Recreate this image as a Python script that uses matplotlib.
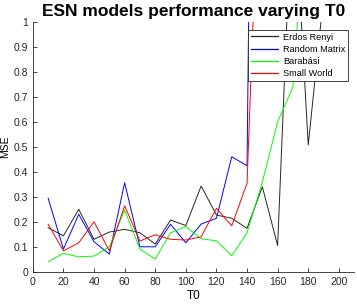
import matplotlib
matplotlib.use('Agg')
import matplotlib.pyplot as plt

plt.rcParams['font.family'] = ['Liberation Sans', 'DejaVu Sans']

t0 = [10, 20, 30, 40, 50, 60, 70, 80, 90, 100, 110, 120, 130, 140, 150, 160, 170, 180, 190]

erdos = [0.177, 0.145, 0.251, 0.131, 0.160, 0.171, 0.157, 0.112, 0.208, 0.186,
         0.344, 0.228, 0.215, 0.175, 0.341, 0.106, 1.6, 0.508, 1.1]
random_matrix = [0.295, 0.092, 0.231, 0.121, 0.072, 0.357, 0.101, 0.101, 0.191, 0.117,
                 0.192, 0.215, 0.461, 0.425, 6.0]
barabasi = [0.041, 0.075, 0.061, 0.064, 0.101, 0.248, 0.092, 0.052, 0.157, 0.182,
            0.133, 0.125, 0.065, 0.157, 0.36, 0.60, 0.74, 1.6]
small_world = [0.191, 0.085, 0.117, 0.201, 0.085, 0.265, 0.124, 0.149, 0.131, 0.128,
               0.141, 0.255, 0.185, 0.355, 2.0]

fig = plt.figure(figsize=(3.57, 3.04), dpi=100)
ax = fig.add_axes([0.092, 0.105, 0.900, 0.823])

lw = 0.7
ax.plot(t0[:len(erdos)], erdos, color='#262626', lw=lw, label='Erdos Renyi')
ax.plot(t0[:len(random_matrix)], random_matrix, color='#0000ff', lw=lw, label='Random Matrix')
ax.plot(t0[:len(barabasi)], barabasi, color='#00ff00', lw=lw, label='Barabási')
ax.plot(t0[:len(small_world)], small_world, color='#ff0000', lw=lw, label='Small World')

ax.set_xlim(0, 210)
ax.set_ylim(0, 1)
ax.set_xticks(range(0, 201, 20))
ax.set_yticks([i / 10 for i in range(11)])
ax.set_yticklabels(['0', '0.1', '0.2', '0.3', '0.4', '0.5', '0.6', '0.7', '0.8', '0.9', '1'])
ax.tick_params(direction='in', labelsize=7.5, length=3, width=0.6, colors='#262626')
for side in ['top', 'right']:
    ax.spines[side].set_visible(False)
for side in ['left', 'bottom']:
    ax.spines[side].set_linewidth(0.6)
    ax.spines[side].set_color('#262626')

ax.set_xlabel('T0', fontsize=8.5, labelpad=2)
ax.set_ylabel('MSE', fontsize=7.5, va='center')
ax.yaxis.set_label_coords(-0.086, 0.5)
ax.set_title('ESN models performance varying T0', fontsize=12.5, fontweight='bold', pad=4)

leg = ax.legend(loc='upper right', bbox_to_anchor=(0.981, 0.968), fontsize=6.6, frameon=True,
                fancybox=False, handlelength=3.0, borderpad=0.3, labelspacing=0.35,
                handletextpad=0.5, borderaxespad=0, framealpha=1)
leg.get_frame().set_edgecolor('#262626')
leg.get_frame().set_linewidth(0.6)
for h in leg.get_lines():
    h.set_linewidth(0.9)

plt.savefig('out.png', dpi=100)
plt.close()
